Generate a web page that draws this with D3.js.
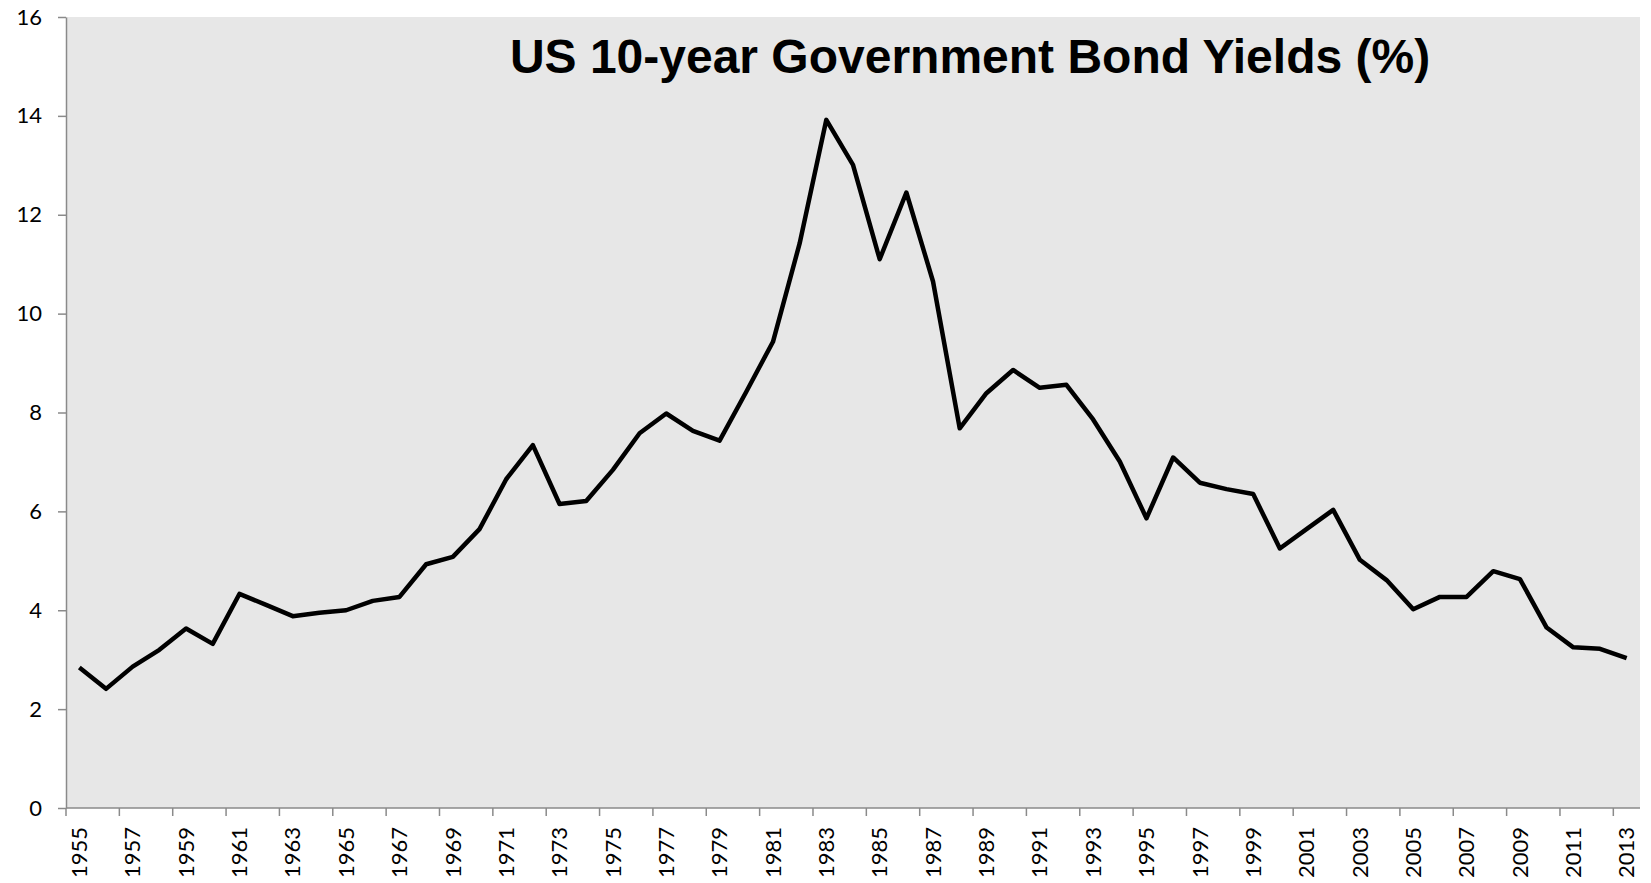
<!DOCTYPE html>
<html>
<head>
<meta charset="utf-8">
<script src="https://cdn.jsdelivr.net/npm/d3@7"></script>
<style>
  html, body { margin: 0; padding: 0; background: #ffffff; }
  svg { display: block; }
</style>
</head>
<body>
<script>
// Annual US 10-year government bond yields, percent
const years = d3.range(1955, 2014);
const yields = [
  2.84, 2.41, 2.86, 3.20, 3.63, 3.32, 4.33, 4.11, 3.88, 3.95,
  4.00, 4.19, 4.27, 4.93, 5.08, 5.64, 6.65, 7.34, 6.15, 6.21,
  6.84, 7.58, 7.98, 7.63, 7.43, 8.42, 9.43, 11.42, 13.92, 13.01,
  11.10, 12.45, 10.65, 7.68, 8.39, 8.86, 8.50, 8.56, 7.86, 7.01,
  5.86, 7.09, 6.58, 6.45, 6.35, 5.25, 5.64, 6.03, 5.02, 4.61,
  4.02, 4.27, 4.27, 4.79, 4.63, 3.65, 3.25, 3.22, 3.03
];
const yTicks = [0, 2, 4, 6, 8, 10, 12, 14, 16];
const xLabelYears = years.filter((d, i) => i % 2 === 0);
const titleText = "US 10-year Government Bond Yields (%)";

const W = 1651, H = 883;
const plot = { left: 66, right: 1640, top: 17, bottom: 808 };
const axisColor = "#8a8a8a";
const labelFont = "Lato, 'Noto Sans', sans-serif";

const svg = d3.select("body").append("svg")
  .attr("width", W).attr("height", H);

const x = d3.scaleBand().domain(years).range([plot.left, plot.right]).padding(0);
const y = d3.scaleLinear().domain([0, 16]).range([plot.bottom, plot.top]);
const bw = x.bandwidth();

// plot area background
svg.append("rect")
  .attr("x", plot.left).attr("y", plot.top)
  .attr("width", plot.right - plot.left).attr("height", plot.bottom - plot.top)
  .attr("fill", "#e7e7e7");

// y axis
const yAxis = svg.append("g")
  .attr("transform", `translate(${plot.left},0)`)
  .call(d3.axisLeft(y).tickValues(yTicks).tickSize(8).tickPadding(16).tickSizeOuter(0));
yAxis.select(".domain").attr("stroke", axisColor).attr("stroke-width", 1.5);
yAxis.selectAll(".tick line").attr("stroke", axisColor).attr("stroke-width", 1.5);
yAxis.selectAll(".tick text")
  .attr("fill", "#000").style("font-family", labelFont).style("font-size", "22px");

// x axis: ticks on category boundaries, labels centred in categories
const xAxis = svg.append("g");
xAxis.append("line")
  .attr("x1", plot.left).attr("x2", plot.right)
  .attr("y1", y(0)).attr("y2", y(0))
  .attr("stroke", axisColor).attr("stroke-width", 1.5);
xAxis.selectAll("line.tick")
  .data(xLabelYears).enter().append("line")
  .attr("class", "tick")
  .attr("x1", d => x(d)).attr("x2", d => x(d))
  .attr("y1", y(0)).attr("y2", y(0) + 8)
  .attr("stroke", axisColor).attr("stroke-width", 1.5);
xAxis.selectAll("text")
  .data(xLabelYears).enter().append("text")
  .attr("transform", d => `translate(${x(d) + bw / 2},${y(0) + 19}) rotate(-90)`)
  .attr("text-anchor", "end")
  .attr("dy", "0.35em")
  .attr("fill", "#000")
  .style("font-family", labelFont).style("font-size", "22px")
  .text(d => d);

// yield line
const line = d3.line()
  .x((d, i) => x(years[i]) + bw / 2)
  .y(d => y(d));
svg.append("path")
  .datum(yields)
  .attr("d", line)
  .attr("fill", "none")
  .attr("stroke", "#000")
  .attr("stroke-width", 4.5)
  .attr("stroke-linejoin", "round");

// title
svg.append("text")
  .attr("x", 970).attr("y", 73)
  .attr("text-anchor", "middle")
  .style("font-family", "'Liberation Sans', Arial, sans-serif")
  .style("font-weight", "bold")
  .style("font-size", "48px")
  .attr("fill", "#000")
  .text(titleText);
</script>
</body>
</html>
